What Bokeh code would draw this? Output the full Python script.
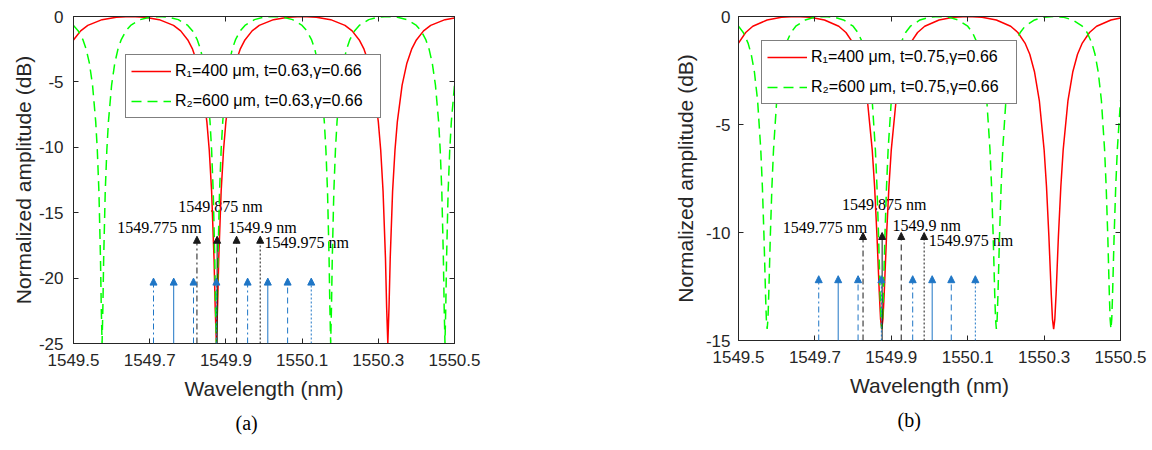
from bokeh.plotting import figure
from bokeh.models import (Range1d, LinearAxis, Legend, LegendItem, Arrow, NormalHead,
                          ColumnDataSource, Title, FixedTicker, CustomJSTickFormatter)
from bokeh.layouts import row
from bokeh.embed import file_html
from bokeh.resources import INLINE
from bokeh.core.properties import value

# ---------------- data ----------------
wavelength_ticks = [1549.5, 1549.7, 1549.9, 1550.1, 1550.3, 1550.5]
amp_ticks_a = [-25, -20, -15, -10, -5, 0]
amp_ticks_b = [-15, -10, -5, 0]

# R1 = 400 um ring (red, solid)
red_wl = [1549.5, 1549.5188, 1549.5375, 1549.575, 1549.6125, 1549.65, 1549.6875, 1549.725,
          1549.7625, 1549.7813, 1549.8, 1549.8125, 1549.825, 1549.8375, 1549.85, 1549.8563,
          1549.8625, 1549.8688, 1549.8719, 1549.875, 1549.8781, 1549.8813, 1549.8875, 1549.8938,
          1549.9, 1549.9125, 1549.925, 1549.9375, 1549.95, 1549.9688, 1549.9875, 1550.025,
          1550.0625, 1550.1, 1550.1375, 1550.175, 1550.2125, 1550.2313, 1550.25, 1550.2625,
          1550.275, 1550.2875, 1550.3, 1550.3063, 1550.3125, 1550.3188, 1550.3219, 1550.325,
          1550.3281, 1550.3313, 1550.3375, 1550.3438, 1550.35, 1550.3625, 1550.375, 1550.3875,
          1550.4, 1550.4188, 1550.4375, 1550.475, 1550.5]
red_db_a = [-1.79, -1.10, -0.68, -0.24, -0.05, 0.0, -0.05, -0.24,
            -0.68, -1.10, -1.79, -2.50, -3.57, -5.25, -8.04, -10.21,
            -13.37, -18.47, -22.25, -25.0, -22.25, -18.47, -13.37, -10.21,
            -8.04, -5.25, -3.57, -2.50, -1.79, -1.10, -0.68, -0.24,
            -0.05, 0.0, -0.05, -0.24, -0.68, -1.10, -1.79, -2.50,
            -3.57, -5.25, -8.04, -10.21, -13.37, -18.47, -22.25, -25.0,
            -22.25, -18.47, -13.37, -10.21, -8.04, -5.25, -3.57, -2.50,
            -1.79, -1.10, -0.68, -0.24, -0.11]
red_db_b = [-1.23, -0.74, -0.45, -0.16, -0.03, 0.0, -0.03, -0.16,
            -0.45, -0.74, -1.23, -1.75, -2.57, -3.89, -6.16, -7.88,
            -10.16, -12.88, -14.01, -14.47, -14.01, -12.88, -10.16, -7.88,
            -6.16, -3.89, -2.57, -1.75, -1.23, -0.74, -0.45, -0.16,
            -0.03, 0.0, -0.03, -0.16, -0.45, -0.74, -1.23, -1.75,
            -2.57, -3.89, -6.16, -7.88, -10.16, -12.88, -14.01, -14.47,
            -14.01, -12.88, -10.16, -7.88, -6.16, -3.89, -2.57, -1.75,
            -1.23, -0.74, -0.45, -0.16, -0.07]

# R2 = 600 um ring (green, dashed)
green_wl = [1549.5, 1549.5125, 1549.525, 1549.5333, 1549.5417, 1549.55, 1549.5583, 1549.5625,
            1549.5667, 1549.5708, 1549.5729, 1549.575, 1549.5771, 1549.5792, 1549.5833, 1549.5875,
            1549.5917, 1549.6, 1549.6083, 1549.6167, 1549.625, 1549.6375, 1549.65,
            1549.675, 1549.7, 1549.725, 1549.75, 1549.775,
            1549.8, 1549.8125, 1549.825, 1549.8333, 1549.8417, 1549.85, 1549.8583, 1549.8625,
            1549.8667, 1549.8708, 1549.8729, 1549.875, 1549.8771, 1549.8792, 1549.8833, 1549.8875,
            1549.8917, 1549.9, 1549.9083, 1549.9167, 1549.925, 1549.9375, 1549.95,
            1549.975, 1550.0, 1550.025, 1550.05, 1550.075,
            1550.1, 1550.1125, 1550.125, 1550.1333, 1550.1417, 1550.15, 1550.1583, 1550.1625,
            1550.1667, 1550.1708, 1550.1729, 1550.175, 1550.1771, 1550.1792, 1550.1833, 1550.1875,
            1550.1917, 1550.2, 1550.2083, 1550.2167, 1550.225, 1550.2375, 1550.25,
            1550.275, 1550.3, 1550.325, 1550.35, 1550.375,
            1550.4, 1550.4125, 1550.425, 1550.4333, 1550.4417, 1550.45, 1550.4583, 1550.4625,
            1550.4667, 1550.4708, 1550.4729, 1550.475, 1550.4771, 1550.4792, 1550.4833, 1550.4875,
            1550.4917, 1550.5]
green_db_a = [-0.68, -1.10, -1.79, -2.50, -3.57, -5.25, -8.04, -10.21,
              -13.37, -18.47, -22.25, -25.0, -22.25, -18.47, -13.37, -10.21,
              -8.04, -5.25, -3.57, -2.50, -1.79, -1.10, -0.68,
              -0.24, -0.05, 0.0, -0.05, -0.24,
              -0.68, -1.10, -1.79, -2.50, -3.57, -5.25, -8.04, -10.21,
              -13.37, -18.47, -22.25, -25.0, -22.25, -18.47, -13.37, -10.21,
              -8.04, -5.25, -3.57, -2.50, -1.79, -1.10, -0.68,
              -0.24, -0.05, 0.0, -0.05, -0.24,
              -0.68, -1.10, -1.79, -2.50, -3.57, -5.25, -8.04, -10.21,
              -13.37, -18.47, -22.25, -25.0, -22.25, -18.47, -13.37, -10.21,
              -8.04, -5.25, -3.57, -2.50, -1.79, -1.10, -0.68,
              -0.24, -0.05, 0.0, -0.05, -0.24,
              -0.68, -1.10, -1.79, -2.50, -3.57, -5.25, -8.04, -10.21,
              -13.37, -18.47, -22.25, -25.0, -22.25, -18.47, -13.37, -10.21,
              -8.04, -5.25]
green_db_b = [-0.45, -0.74, -1.23, -1.75, -2.57, -3.89, -6.16, -7.88,
              -10.16, -12.88, -14.01, -14.47, -14.01, -12.88, -10.16, -7.88,
              -6.16, -3.89, -2.57, -1.75, -1.23, -0.74, -0.45,
              -0.16, -0.03, 0.0, -0.03, -0.16,
              -0.45, -0.74, -1.23, -1.75, -2.57, -3.89, -6.16, -7.88,
              -10.16, -12.88, -14.01, -14.47, -14.01, -12.88, -10.16, -7.88,
              -6.16, -3.89, -2.57, -1.75, -1.23, -0.74, -0.45,
              -0.16, -0.03, 0.0, -0.03, -0.16,
              -0.45, -0.74, -1.23, -1.75, -2.57, -3.89, -6.16, -7.88,
              -10.16, -12.88, -14.01, -14.47, -14.01, -12.88, -10.16, -7.88,
              -6.16, -3.89, -2.57, -1.75, -1.23, -0.74, -0.45,
              -0.16, -0.03, 0.0, -0.03, -0.16,
              -0.45, -0.74, -1.23, -1.75, -2.57, -3.89, -6.16, -7.88,
              -10.16, -12.88, -14.01, -14.47, -14.01, -12.88, -10.16, -7.88,
              -6.16, -3.89]

# blue comb lines (arrows)
comb_wl_a = [1549.710, 1549.763, 1549.815, 1549.875, 1549.957, 1550.010, 1550.062, 1550.124]
comb_wl_b = [1549.710, 1549.761, 1549.813, 1549.874, 1549.956, 1550.007, 1550.057, 1550.120]
comb_styles = ["dashdot", "solid", "dashed", "dotted", "dashdot", "solid", "dashed", "dotted"]
comb_top_a = -20.0
comb_top_b = -12.0

# black probe lines (arrows) and their labels
probe_wl_a = [1549.824, 1549.877, 1549.928, 1549.990]
probe_wl_b = [1549.826, 1549.876, 1549.926, 1549.986]
probe_styles = ["dashdot", "solid", "dashed", "dotted"]
probe_top_a = -16.8
probe_top_b = -10.0
probe_labels = ["1549.775 nm", "1549.875 nm", "1549.9 nm", "1549.975 nm"]

legend_a = ["R\u2081=400 \u03bcm, t=0.63,\u03b3=0.66", "R\u2082=600 \u03bcm, t=0.63,\u03b3=0.66"]
legend_b = ["R\u2081=400 \u03bcm, t=0.75,\u03b3=0.66", "R\u2082=600 \u03bcm, t=0.75,\u03b3=0.66"]

# ---------------- styling / layout ----------------
BLUE = "#1f76c6"
BLACK = "#1a1a1a"
AXC = "#262626"
DASH = {"solid": [], "dashed": [6, 4], "dotted": [2, 2], "dashdot": [6, 3, 2, 3]}

label_pos_a = ([1549.615, 1549.775, 1549.906, 1550.001], [-16.15, -14.5, -16.15, -17.3])
label_pos_b = ([1549.616, 1549.771, 1549.903, 1549.998], [-9.75, -8.7, -9.68, -10.39])


def style_axis(ax, label_standoff, axis_label_standoff):
    ax.axis_line_color = AXC
    ax.major_tick_line_color = AXC
    ax.major_tick_in = 5
    ax.major_tick_out = 0
    ax.minor_tick_line_color = None
    ax.major_label_text_font = "Liberation Sans"
    ax.major_label_text_font_size = "17px"
    ax.major_label_text_color = AXC
    ax.major_label_standoff = label_standoff
    ax.axis_label_text_font = "Liberation Sans"
    ax.axis_label_text_font_size = "21px"
    ax.axis_label_text_font_style = "normal"
    ax.axis_label_text_color = AXC
    ax.axis_label_standoff = axis_label_standoff


def panel(red_db, green_db, ymin, yticks, comb_wl, comb_top, probe_wl, probe_top,
          label_pos, legend_labels, caption, fw, fh, bl, br, bt, bb, legend_loc,
          y_lab_standoff, y_axis_standoff, cap_offset):
    p = figure(frame_width=fw, frame_height=fh,
               x_range=Range1d(1549.5, 1550.5), y_range=Range1d(ymin, 0),
               output_backend="svg", toolbar_location=None,
               min_border_left=bl, min_border_right=br,
               min_border_top=bt, min_border_bottom=bb)
    p.xgrid.visible = False
    p.ygrid.visible = False
    p.outline_line_color = AXC
    p.outline_line_width = 1
    p.background_fill_color = "white"
    p.border_fill_color = "white"

    p.xaxis.axis_label = "Wavelength (nm)"
    p.yaxis.axis_label = "Normalized amplitude (dB)"
    p.xaxis.ticker = FixedTicker(ticks=wavelength_ticks)
    p.xaxis.major_label_overrides = {t: f"{t:.1f}" for t in wavelength_ticks}
    p.yaxis.ticker = FixedTicker(ticks=yticks)
    p.yaxis.major_label_overrides = {t: str(t) for t in yticks}
    style_axis(p.xaxis[0], 10, 8)
    style_axis(p.yaxis[0], y_lab_standoff, y_axis_standoff)

    for loc, ticks in (("above", wavelength_ticks), ("right", yticks)):
        ax = LinearAxis(ticker=FixedTicker(ticks=ticks),
                        formatter=CustomJSTickFormatter(code="return ''"),
                        major_tick_in=5, major_tick_out=0, major_label_standoff=0,
                        minor_tick_line_color=None, axis_line_color=AXC,
                        major_tick_line_color=AXC)
        p.add_layout(ax, loc)

    # probe labels
    p.text(x=label_pos[0], y=label_pos[1], text=probe_labels,
           text_font=value("Liberation Serif"), text_font_size="16px",
           text_align="left", text_baseline="middle", text_color="black")

    r_red = p.line(red_wl, red_db, line_color="#ff0000", line_width=1.5)
    r_green = p.line(green_wl, green_db, line_color="#00ff00", line_width=1.5,
                     line_dash="10 6")

    for style in ["dashdot", "solid", "dashed", "dotted"]:
        xs = [x for x, s in zip(comb_wl, comb_styles) if s == style]
        if xs:
            src = ColumnDataSource(dict(x=xs, y0=[ymin] * len(xs), y1=[comb_top] * len(xs)))
            p.add_layout(Arrow(end=NormalHead(size=7, fill_color=BLUE, line_color=BLUE, line_width=1),
                               x_start="x", y_start="y0", x_end="x", y_end="y1", source=src,
                               line_color=BLUE, line_width=1, line_dash=value(DASH[style])))
        xs = [x for x, s in zip(probe_wl, probe_styles) if s == style]
        if xs:
            src = ColumnDataSource(dict(x=xs, y0=[ymin] * len(xs), y1=[probe_top] * len(xs)))
            p.add_layout(Arrow(end=NormalHead(size=7, fill_color=BLACK, line_color=BLACK, line_width=1),
                               x_start="x", y_start="y0", x_end="x", y_end="y1", source=src,
                               line_color=BLACK, line_width=1, line_dash=value(DASH[style])))

    legend = Legend(items=[LegendItem(label=legend_labels[0], renderers=[r_red]),
                           LegendItem(label=legend_labels[1], renderers=[r_green])],
                    location=legend_loc, margin=0, padding=5, spacing=8,
                    glyph_width=40, glyph_height=22, label_height=22, label_width=200,
                    label_standoff=4,
                    label_text_font="Liberation Sans", label_text_font_size="16px",
                    label_text_color="black", border_line_color="black",
                    border_line_width=1, background_fill_color="white",
                    background_fill_alpha=1.0)
    p.add_layout(legend)

    p.add_layout(Title(text=caption, align="left", offset=cap_offset,
                       text_font="Liberation Serif", text_font_size="20px",
                       text_font_style="normal", text_color="black", standoff=14), "below")
    return p


p1 = panel(red_db_a, green_db_a, -25, amp_ticks_a, comb_wl_a, comb_top_a,
           probe_wl_a, probe_top_a, label_pos_a, legend_a, "(a)",
           381, 327, 73, 122, 12, 111, (52, 225), 10, 1, 162)
p2 = panel(red_db_b, green_db_b, -15, amp_ticks_b, comb_wl_b, comb_top_b,
           probe_wl_b, probe_top_b, label_pos_b, legend_b, "(b)",
           382, 324, 162, 32, 16, 110, (23, 236), 8, 6, 159)

layout = row(p1, p2)
open("out.html", "w").write(file_html(layout, INLINE))
